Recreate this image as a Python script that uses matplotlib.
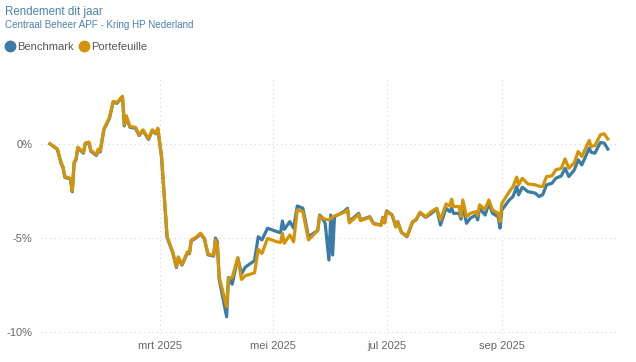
import matplotlib
matplotlib.use("Agg")
import matplotlib.pyplot as plt
from matplotlib.lines import Line2D
import pandas as pd

plt.rcParams['font.family'] = ['Liberation Sans', 'DejaVu Sans']

# data (rendement in %)
datums = ["2025-01-01", "2025-01-05", "2025-01-07", "2025-01-08", "2025-01-09", "2025-01-12",
          "2025-01-13", "2025-01-14", "2025-01-15", "2025-01-16", "2025-01-19", "2025-01-20",
          "2025-01-22", "2025-01-23", "2025-01-26", "2025-01-27", "2025-01-28", "2025-01-30",
          "2025-02-02", "2025-02-04", "2025-02-06", "2025-02-09", "2025-02-10", "2025-02-11",
          "2025-02-13", "2025-02-16", "2025-02-18", "2025-02-20", "2025-02-23", "2025-02-25",
          "2025-02-27", "2025-02-28", "2025-03-02", "2025-03-04", "2025-03-05", "2025-03-08",
          "2025-03-10", "2025-03-11", "2025-03-13", "2025-03-16", "2025-03-17", "2025-03-18",
          "2025-03-20", "2025-03-23", "2025-03-25", "2025-03-27", "2025-03-30", "2025-03-31",
          "2025-04-01", "2025-04-02", "2025-04-06", "2025-04-07", "2025-04-09", "2025-04-12",
          "2025-04-14", "2025-04-16", "2025-04-21", "2025-04-23", "2025-04-25", "2025-04-28",
          "2025-05-03", "2025-05-05", "2025-05-06", "2025-05-07", "2025-05-10", "2025-05-12",
          "2025-05-14", "2025-05-17", "2025-05-20", "2025-05-25", "2025-05-26", "2025-05-27",
          "2025-05-29", "2025-05-31", "2025-06-01", "2025-06-02", "2025-06-03", "2025-06-08",
          "2025-06-10", "2025-06-11", "2025-06-16", "2025-06-17", "2025-06-22", "2025-06-24",
          "2025-06-28", "2025-06-29", "2025-06-30", "2025-07-01", "2025-07-04", "2025-07-06",
          "2025-07-07", "2025-07-09", "2025-07-12", "2025-07-15", "2025-07-17", "2025-07-19",
          "2025-07-22", "2025-07-25", "2025-07-28", "2025-07-30", "2025-08-02", "2025-08-04",
          "2025-08-05", "2025-08-06", "2025-08-09", "2025-08-10", "2025-08-11", "2025-08-13",
          "2025-08-15", "2025-08-18", "2025-08-19", "2025-08-20", "2025-08-23", "2025-08-25",
          "2025-08-27", "2025-08-30", "2025-08-31", "2025-09-01", "2025-09-05", "2025-09-07",
          "2025-09-09", "2025-09-10", "2025-09-12", "2025-09-15", "2025-09-19", "2025-09-21",
          "2025-09-23", "2025-09-25", "2025-09-28", "2025-09-30", "2025-10-03", "2025-10-05",
          "2025-10-07", "2025-10-10", "2025-10-12", "2025-10-14", "2025-10-18", "2025-10-19",
          "2025-10-21", "2025-10-24", "2025-10-26", "2025-10-28"]

portefeuille = [0.0, -0.27, -1.0, -1.2, -1.74, -1.83,
                -2.5, -0.98, -0.8, -0.18, -0.46, 0.04,
                0.09, -0.35, -0.58, -0.28, -0.4, 0.78,
                1.4, 2.25, 2.2, 2.52, 1.0, 1.49,
                0.92, 0.87, 0.48, 0.74, 0.27, 0.74,
                0.57, 0.83, -0.67, -3.5, -4.93, -5.73,
                -6.53, -6.0, -6.4, -5.73, -5.8, -5.1,
                -5.0, -4.75, -5.0, -5.85, -5.92, -5.1,
                -5.37, -7.06, -8.65, -7.15, -7.1, -6.05,
                -7.2, -7.0, -6.85, -5.6, -5.82, -5.02,
                -5.2, -5.23, -4.75, -5.28, -4.84, -5.2,
                -3.51, -3.6, -5.1, -4.6, -3.83, -3.9,
                -4.0, -4.04, -3.95, -3.9, -3.83, -3.65,
                -3.5, -4.2, -3.75, -4.08, -3.9, -4.25,
                -4.33, -3.92, -4.2, -3.58, -3.8, -4.42,
                -4.15, -4.7, -4.9, -4.13, -4.0, -3.63,
                -3.87, -3.6, -3.42, -4.04, -3.19, -3.3,
                -2.94, -3.33, -3.33, -3.87, -2.98, -3.87,
                -3.69, -3.6, -3.8, -3.24, -3.48, -2.98,
                -3.51, -3.69, -4.13, -3.16, -2.54, -2.27,
                -1.77, -2.18, -1.83, -2.13, -2.18, -2.25,
                -2.27, -1.74, -1.7, -1.38, -1.3, -0.8,
                -1.3, -1.0, -0.41, -0.67, 0.18, -0.14,
                -0.1, 0.48, 0.53, 0.25]

benchmark = [0.0, -0.3, -1.05, -1.25, -1.78, -1.87,
             -2.55, -1.02, -0.85, -0.22, -0.5, 0.0,
             0.05, -0.4, -0.62, -0.32, -0.44, 0.74,
             1.36, 2.2, 2.15, 2.48, 0.95, 1.44,
             0.88, 0.82, 0.44, 0.7, 0.23, 0.7,
             0.53, 0.78, -0.7, -3.55, -4.97, -5.77,
             -6.57, -6.04, -6.44, -5.77, -5.84, -5.14,
             -5.04, -4.79, -5.04, -5.89, -5.96, -5.0,
             -5.2, -7.2, -9.18, -7.1, -7.45, -6.05,
             -6.9, -6.55, -6.2, -4.93, -5.1, -4.48,
             -4.66, -4.72, -4.1, -4.54, -4.13, -4.48,
             -3.3, -3.42, -4.93, -4.6, -3.78, -3.87,
             -4.22, -6.17, -3.78, -5.9, -3.87, -3.6,
             -3.42, -4.13, -3.69, -4.04, -3.87, -4.22,
             -4.31, -3.9, -4.19, -3.56, -3.78, -4.4,
             -4.13, -4.7, -4.93, -4.15, -4.03, -3.66,
             -3.9, -3.7, -3.45, -4.31, -3.42, -3.6,
             -3.42, -3.69, -3.69, -4.0, -3.3, -4.22,
             -3.95, -3.78, -4.04, -3.42, -3.78, -3.16,
             -3.69, -3.87, -4.48, -3.51, -2.98, -2.8,
             -2.27, -2.71, -2.3, -2.54, -2.62, -2.8,
             -2.7, -2.18, -2.09, -1.83, -1.7, -1.3,
             -1.74, -1.38, -0.85, -1.12, -0.23, -0.45,
             -0.5, 0.07, 0.04, -0.28]

maand_ticks = ["2025-03-01", "2025-05-01", "2025-07-01", "2025-09-01"]
maand_labels = ["mrt 2025", "mei 2025", "jul 2025", "sep 2025"]
y_ticks = [0, -5, -10]
y_labels = ["0%", "-5%", "-10%"]

kleur_bench = "#3a7ca5"
kleur_port = "#d4940a"
grijs = "#666666"

x = pd.to_datetime(datums)

fig = plt.figure(figsize=(6.36, 3.62), dpi=100)
ax = fig.add_axes([0.0645, 0.077, 0.9085, 0.708])

ax.plot(x, benchmark, color=kleur_bench, lw=2.3, solid_joinstyle='round', zorder=3)
ax.plot(x, portefeuille, color=kleur_port, lw=2.3, solid_joinstyle='round', zorder=4)

ax.set_xlim(pd.Timestamp("2025-01-01") - pd.Timedelta(days=4.8),
            pd.Timestamp("2025-01-01") + pd.Timedelta(days=305.9))
ax.set_ylim(-10.1, 3.5)

ax.set_xticks(pd.to_datetime(maand_ticks))
ax.set_xticklabels(maand_labels)
ax.set_yticks(y_ticks)
ax.set_yticklabels(y_labels)
ax.tick_params(length=0, labelsize=8, colors=grijs, pad=6)
ax.tick_params(axis='x', pad=5)
ax.grid(True, color="#d6d6d6", lw=0.8, linestyle=(0, (1, 3)))
for s in ax.spines.values():
    s.set_visible(False)

fig.text(5/636, 1 - 12/362, "Rendement dit jaar", fontsize=8.3, color="#4a82ad", va='center')
fig.text(5/636, 1 - 25/362, "Centraal Beheer APF - Kring HP Nederland", fontsize=7.1, color="#4a82ad", va='center')

handles = [Line2D([], [], marker='o', ls='', color=kleur_bench, markersize=7.5),
           Line2D([], [], marker='o', ls='', color=kleur_port, markersize=7.5)]
fig.legend(handles, ["Benchmark", "Portefeuille"], loc='center left',
           bbox_to_anchor=(6/636, 1 - 47/362), ncol=2, frameon=False, fontsize=8,
           handlelength=0.7, handletextpad=0.3, columnspacing=0.6,
           borderaxespad=0, borderpad=0, labelcolor="#555555")

fig.savefig("out.png", dpi=100)
